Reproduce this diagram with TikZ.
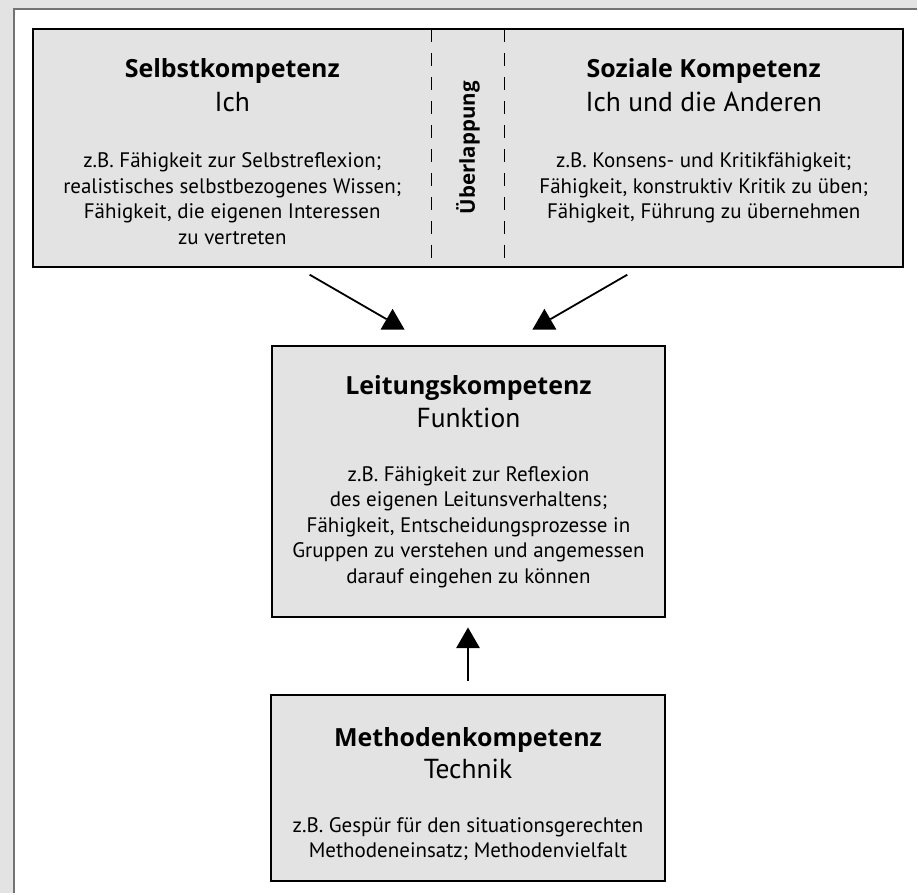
\documentclass[tikz,border=0pt]{standalone}
\usepackage{fontspec}
\setmainfont{PT Sans}
\newfontfamily\titelschrift{Open Sans}
\usetikzlibrary{calc,shapes.geometric}

\tikzset{
  kasten/.style={draw=black, line width=2pt, fill=gray!22, inner sep=0pt},
  titel/.style={font=\titelschrift\bfseries\fontsize{25}{30}\selectfont, anchor=base, inner sep=0pt},
  untertitel/.style={font=\fontsize{27.5}{30}\selectfont, anchor=base, inner sep=0pt},
  beispiel/.style={font=\fontsize{21}{25.5}\selectfont, align=center, anchor=base, inner sep=0pt},
  ueber/.style={font=\titelschrift\bfseries\fontsize{20.5}{22}\selectfont, rotate=90, inner sep=0pt},
  trenner/.style={line width=1.6pt, dash pattern=on 13pt off 11pt},
  spitze/.style={regular polygon, regular polygon sides=3, fill=black, minimum size=27.7pt, inner sep=0pt, outer sep=0pt},
  pfeil/.style={line width=1.8pt},
}

\begin{document}
\begin{tikzpicture}[x=1pt,y=-1pt]

\fill[gray!22] (0,0) rectangle (918,894);
\fill[white] (14,9) rectangle (918,894);
\draw[black!55, line width=2pt] (14,894) -- (14,9) -- (918,9);

\node[kasten, minimum width=871pt, minimum height=238pt] (oben) at (468.5,148) {};
\node[kasten, minimum width=394pt, minimum height=272pt] (leitung) at (469,482) {};
\node[kasten, minimum width=395pt, minimum height=186pt] (methode) at (468.5,789) {};

\draw[trenner] (432,29) -- (432,267);
\draw[trenner] (505,29) -- (505,267);
\node[ueber] (ueberlappung) at (468.5,148) {Überlappung};

\node[titel] (selbstT) at (232.5,78) {Selbstkompetenz};
\node[untertitel] (selbstU) at (232.5,112) {Ich};
\node[beispiel] (selbstB) at (232.5,244.5) {z.B. Fähigkeit zur Selbstreflexion;\\realistisches selbstbezogenes Wissen;\\Fähigkeit, die eigenen Interessen\\zu vertreten};

\node[titel] (sozialT) at (704.5,78) {Soziale Kompetenz};
\node[untertitel] (sozialU) at (704.5,112) {Ich und die Anderen};
\node[beispiel] (sozialB) at (704.5,219) {z.B. Konsens- und Kritikfähigkeit;\\Fähigkeit, konstruktiv Kritik zu üben;\\Fähigkeit, Führung zu übernehmen};

\node[titel] (leitungT) at (469,395) {Leitungskompetenz};
\node[untertitel] (leitungU) at (469,428) {Funktion};
\node[beispiel] (leitungB) at (469,584) {z.B. Fähigkeit zur Reflexion\\des eigenen Leitunsverhaltens;\\Fähigkeit, Entscheidungsprozesse in\\Gruppen zu verstehen und angemessen\\darauf eingehen zu können};

\node[titel] (methodeT) at (468.5,747) {Methodenkompetenz};
\node[untertitel] (methodeU) at (468.5,779) {Technik};
\node[beispiel] (methodeB) at (468.5,858.5) {z.B. Gespür für den situationsgerechten\\Methodeneinsatz; Methodenvielfalt};

\node[spitze] (spitzeL) at (393,323) {};
\node[spitze] (spitzeR) at (545,323) {};
\node[spitze] (spitzeM) at (468.5,642) {};
\coordinate (startL) at (310,275);
\coordinate (startR) at (628,275);

\draw[pfeil] (startL) -- (spitzeL);
\draw[pfeil] (startR) -- (spitzeR);
\draw[pfeil, shorten <=13pt] (methode.north) -- (spitzeM);

\end{tikzpicture}
\end{document}
